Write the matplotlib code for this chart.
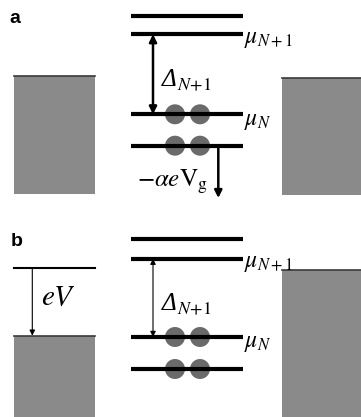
import matplotlib.pyplot as plt
from matplotlib.patches import Rectangle, Circle

plt.rcParams['mathtext.fontset'] = 'stix'
plt.rcParams['font.family'] = 'Liberation Serif'

# energy levels of the dot (pixel rows), panel a and b
levels_a = [15.7, 34.3, 114.3, 145.7]
levels_b = [239.0, 258.7, 337.0, 369.0]
# filled levels (index into levels) and electron x positions
filled = [2, 3]
electron_x = [175.0, 200.0]
# leads: (left, top, right, bottom)
lead_left_a = (14, 75.5, 95, 194)
lead_right_a = (282, 77.5, 361, 195)
lead_left_b = (14, 335.7, 95, 417)
lead_right_b = (282, 270, 361, 417)
bias_line_b = 267.7

panel_labels = ['a', 'b']
level_labels = [r'$\mu_{N+1}$', r'$\mu_N$']

fig = plt.figure(figsize=(3.61, 4.17), dpi=100)
ax = fig.add_axes([0, 0, 1, 1])
ax.set_xlim(0, 361)
ax.set_ylim(417, 0)
ax.axis('off')

gray = '#8a8a8a'
edge = '#3a3a3a'


def lead(box):
    x0, y0, x1, y1 = box
    ax.add_patch(Rectangle((x0, y0), x1 - x0, y1 - y0, facecolor=gray, edgecolor='none', zorder=1))
    ax.plot([x0, x1], [y0, y0], color=edge, lw=1.2, zorder=2)


def dot(levels, thick):
    for y in levels:
        ax.plot([131, 243], [y, y], color='black', lw=3.0, solid_capstyle='butt', zorder=4)
    for i in filled:
        for x in electron_x:
            ax.add_patch(Circle((x, levels[i]), 10, facecolor='#6a6a6a',
                                edgecolor='none', zorder=3))
    ax.text(244, levels[1] + 5, level_labels[0], fontsize=17, va='center', ha='left')
    ax.text(244, levels[2] + 7, level_labels[1], fontsize=17, va='center', ha='left')
    if thick:
        style = dict(arrowstyle='<|-|>', lw=1.8, color='black', mutation_scale=11,
                     shrinkA=0, shrinkB=0)
    else:
        style = dict(arrowstyle='<|-|>', lw=0.8, color='black', mutation_scale=8,
                     shrinkA=0, shrinkB=0)
    ax.annotate('', xy=(153, levels[1]), xytext=(153, levels[2]), arrowprops=style, zorder=5)
    ymid = (levels[1] + levels[2]) / 2
    # italic capital delta with its subscript
    ax.text(162, ymid + 12, '\u0394', fontsize=18, fontstyle='italic', va='baseline', ha='left')
    ax.text(177, ymid + 16, r'$N\!+\!1$', fontsize=13, va='baseline', ha='left')


# panel a
lead(lead_left_a)
lead(lead_right_a)
dot(levels_a, True)
ax.annotate('', xy=(218.3, 198), xytext=(218.3, levels_a[3]),
            arrowprops=dict(arrowstyle='-|>', lw=1.8, color='black', mutation_scale=11,
                            shrinkA=0, shrinkB=0), zorder=5)
ax.text(137, 182, r'$-\alpha e\mathrm{V}_\mathrm{g}$', fontsize=18, va='center', ha='left')

# panel b
lead(lead_left_b)
lead(lead_right_b)
ax.plot([14, 95], [bias_line_b, bias_line_b], color='black', lw=1.5, zorder=2)
dot(levels_b, False)
ax.annotate('', xy=(32.3, lead_left_b[1]), xytext=(32.3, bias_line_b),
            arrowprops=dict(arrowstyle='-|>', lw=0.8, color='black', mutation_scale=8,
                            shrinkA=0, shrinkB=0), zorder=5)
ax.text(41, 298, r'$eV$', fontsize=21, va='center', ha='left')

ax.text(9, 18, panel_labels[0], fontsize=14, fontweight='bold', family='Liberation Sans',
        va='center', ha='left')
ax.text(11, 241, panel_labels[1], fontsize=14, fontweight='bold', family='Liberation Sans',
        va='center', ha='left')

fig.savefig('out.png', dpi=100)
